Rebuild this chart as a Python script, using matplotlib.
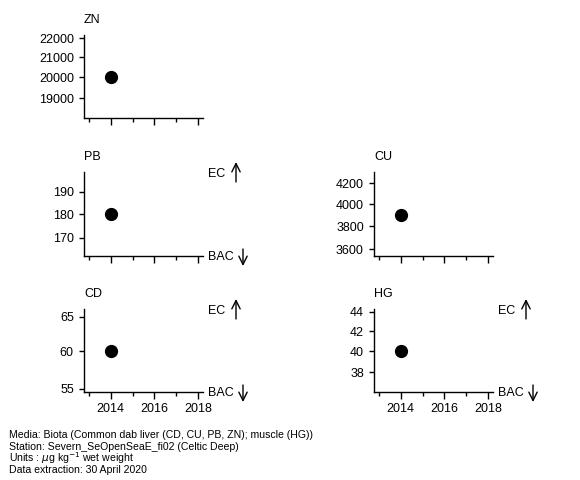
import matplotlib
matplotlib.use("Agg")
import matplotlib.pyplot as plt
from matplotlib.patches import FancyArrowPatch
from matplotlib.ticker import NullLocator, FixedLocator

plt.rcParams['font.family'] = ['Liberation Sans', 'DejaVu Sans']

# datos
determinands = ["ZN", "PB", "CU", "CD", "HG"]
years = [2014, 2014, 2014, 2014, 2014]
values = [20000, 180, 3900, 60, 40]
yticks = {
    "ZN": [19000, 20000, 21000, 22000],
    "PB": [170, 180, 190],
    "CU": [3600, 3800, 4000, 4200],
    "CD": [55, 60, 65],
    "HG": [38, 40, 42, 44],
}
ylims = {
    "ZN": (18090, 22180),
    "PB": (162.8, 199.1),
    "CU": (3546, 4309),
    "CD": (54.6, 66.2),
    "HG": (36.24, 44.3),
}
thresholds = ["PB", "CD", "HG"]  # EC / BAC
xmajor = [2014, 2016, 2018]
xminor = [2013, 2015, 2017]
footer = [
    "Media: Biota (Common dab liver (CD, CU, PB, ZN); muscle (HG))",
    "Station: Severn_SeOpenSeaE_fi02 (Celtic Deep)",
    r"Units : $\mu$g kg$^{-1}$ wet weight",
    "Data extraction: 30 April 2020",
]

W, H = 580, 480
fig = plt.figure(figsize=(W / 100, H / 100), dpi=100)

# posiciones de paneles en pixeles (x0, x1, y0, y1)
pos = {
    "ZN": (84, 203, 35, 118),
    "PB": (84, 203, 172, 256),
    "CU": (374, 493, 172, 256),
    "CD": (84, 203, 309, 392),
    "HG": (374, 493, 309, 392),
}
bottom_row = ["CD", "HG"]
fs = 9


def flecha(x, ya, yb):
    # flecha vertical en pixeles, de ya a yb
    fig.patches.append(FancyArrowPatch(
        (x / W, 1 - ya / H), (x / W, 1 - yb / H),
        transform=fig.transFigure, arrowstyle='->,head_length=0.5,head_width=0.25',
        mutation_scale=12, lw=1, color='black', shrinkA=0, shrinkB=0))


for det, yr, val in zip(determinands, years, values):
    x0, x1, y0, y1 = pos[det]
    ax = fig.add_axes([x0 / W, 1 - y1 / H, (x1 - x0) / W, (y1 - y0) / H])
    ax.plot([yr], [val], 'o', color='black', markersize=8.5)
    ax.set_yscale('log')
    ax.set_ylim(*ylims[det])
    ax.set_xlim(2012.79, 2018.21)
    ax.yaxis.set_major_locator(FixedLocator(yticks[det]))
    ax.yaxis.set_minor_locator(NullLocator())
    ax.set_yticklabels([str(t) for t in yticks[det]])
    ax.set_xticks(xmajor)
    ax.set_xticks(xminor, minor=True)
    if det in bottom_row:
        ax.set_xticklabels([str(t) for t in xmajor])
    else:
        ax.set_xticklabels([])
    for s in ['top', 'right']:
        ax.spines[s].set_visible(False)
    for s in ['left', 'bottom']:
        ax.spines[s].set_linewidth(1.0)
    ax.tick_params(axis='x', which='major', length=5, width=1, pad=3, labelsize=fs)
    ax.tick_params(axis='x', which='minor', length=3, width=1)
    ax.tick_params(axis='y', which='major', length=3.8, width=1, pad=3.5, labelsize=fs)
    ax.patch.set_alpha(0)

    fig.text(x0 / W, 1 - (y0 - 15) / H, det, fontsize=fs, ha='left', va='center')

    if det in thresholds:
        # EC arriba, BAC abajo
        fig.text((x0 + 124) / W, 1 - (y0 + 2) / H, "EC", fontsize=fs, ha='left', va='center')
        flecha(x0 + 152, y0 + 10, y0 - 10)
        fig.text((x0 + 124) / W, 1 - (y1 + 1) / H, "BAC", fontsize=fs, ha='left', va='center')
        flecha(x0 + 159, y1 - 7, y1 + 10)

for i, line in enumerate(footer):
    fig.text(9 / W, 1 - (435 + i * 11.7) / H, line, fontsize=7.6, ha='left', va='center')

fig.savefig("out.png", dpi=100)
